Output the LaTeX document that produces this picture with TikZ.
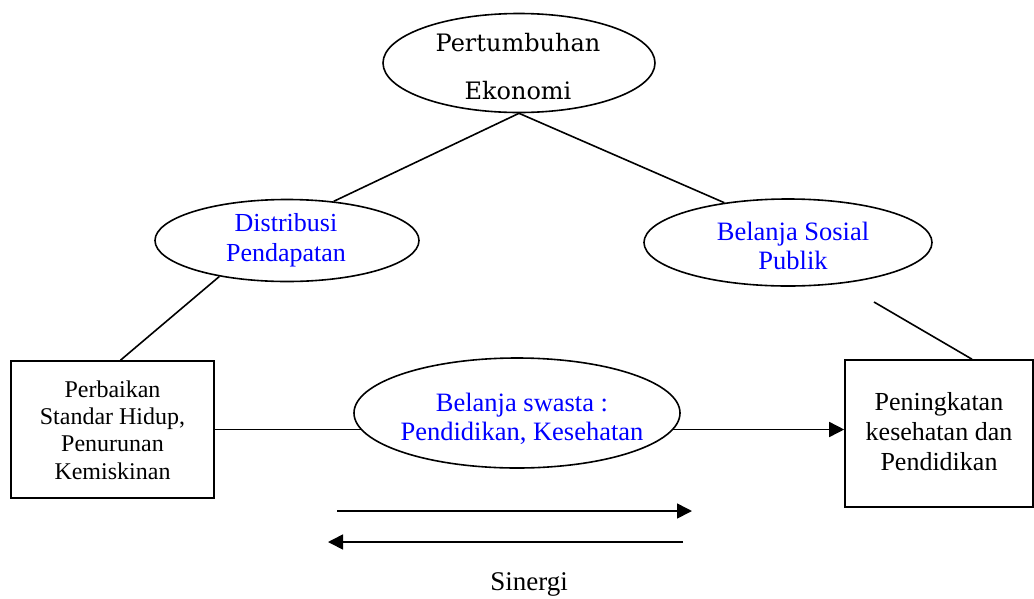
\documentclass[tikz,border=0pt]{standalone}
\usepackage{fontspec}
\setmainfont{Liberation Serif}
\newfontfamily\slabfont{DejaVu Serif}
\usetikzlibrary{arrows.meta,shapes.geometric}
\definecolor{pureblue}{RGB}{0,0,255}
\tikzset{
  oval/.style={draw, line width=1.6pt, ellipse, inner sep=0pt},
  boxnode/.style={draw, line width=1.6pt, rectangle, inner sep=0pt},
  txt/.style={align=center, inner sep=0pt},
  conn/.style={line width=1.6pt},
  arr/.style={line width=1.6pt, -{Triangle[length=15pt,width=15pt]}},
}
\begin{document}
\begin{tikzpicture}[x=1pt,y=-1pt]
\useasboundingbox (0,0) rectangle (1034,598);
% ellipses
\node[oval, minimum width=272pt, minimum height=99pt] (top) at (519,63) {};
\node[txt, font=\slabfont\fontsize{24}{48}\selectfont] (toptxt) at (518,67) {Pertumbuhan\\Ekonomi};
\node[oval, minimum width=264pt, minimum height=82pt] (dist) at (287,240.5) {};
\node[txt, text=pureblue, font=\fontsize{26}{30}\selectfont] (disttxt) at (286,240) {Distribusi\\Pendapatan};
\node[oval, minimum width=288pt, minimum height=87pt] (soc) at (788,242.5) {};
\node[txt, text=pureblue, font=\fontsize{26.5}{29}\selectfont] (soctxt) at (793,246) {Belanja Sosial\\Publik};
% boxes
\node[boxnode, minimum width=203pt, minimum height=137pt] (lbox) at (112.5,429.5) {};
\node[txt, font=\fontsize{24}{27.3}\selectfont] (lboxtxt) at (112.5,430) {Perbaikan\\Standar Hidup,\\Penurunan\\Kemiskinan};
\node[boxnode, minimum width=188pt, minimum height=147pt] (rbox) at (939,433.5) {};
\node[txt, font=\fontsize{26}{30}\selectfont] (rboxtxt) at (939,432) {Peningkatan\\kesehatan dan\\Pendidikan};
% horizontal connector (drawn before the white ellipse)
\draw[arr] (lbox.east) -- (lbox.east -| rbox.west);
\node[oval, fill=white, minimum width=326pt, minimum height=110pt] (mid) at (517,413) {};
\node[txt, text=pureblue, font=\fontsize{26.5}{29.5}\selectfont] (midtxt) at (522,419) {Belanja swasta :\\Pendidikan, Kesehatan};
% connectors
\draw[conn] (top.south) -- (dist.40);
\draw[conn] (top.south) -- (soc.148);
\draw[conn] (dist.208) -- ([xshift=8pt]lbox.north);
\coordinate (socfree) at (874,302);
\draw[conn] (socfree) -- ([xshift=33pt]rbox.north);
% synergy arrows
\coordinate (s1) at (337,511);
\coordinate (s2) at (692,511);
\coordinate (s3) at (683,542);
\coordinate (s4) at (328,542);
\draw[arr] (s1) -- (s2);
\draw[arr] (s3) -- (s4);
\node[txt, font=\fontsize{27}{30}\selectfont, anchor=base] (sin) at (529,590) {Sinergi};
\end{tikzpicture}
\end{document}
